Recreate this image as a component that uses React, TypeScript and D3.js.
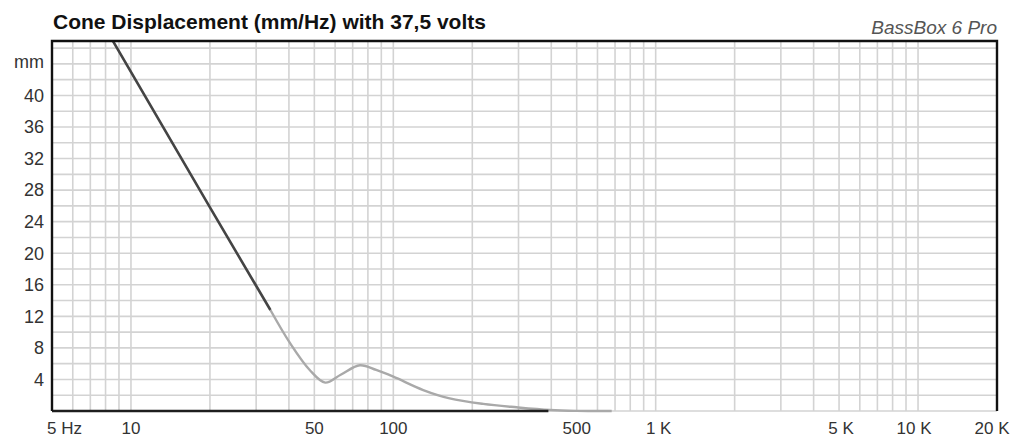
import React from "react";
import * as d3 from "d3";

const W = 1018;
const H = 438;

// Data
const darkFreq = [8, 20, 34];
const darkMm = [48.5, 25.8, 12.8];

const lightFreq = [34, 40.4, 48, 55, 63, 74.6, 86, 100, 130, 164, 220, 295, 395, 500, 680];
const lightMm = [12.8, 8.6, 5.2, 3.6, 4.6, 5.8, 5.2, 4.35, 2.66, 1.6, 0.9, 0.47, 0.13, 0.02, 0];

const floorFreq = [5, 390];
const floorMm = [0, 0];

const xTickValues = [5, 10, 50, 100, 500, 1000, 5000, 10000, 20000];
const xTickLabels = ["5 Hz", "10", "50", "100", "500", "1 K", "5 K", "10 K", "20 K"];
const yTickValues = [4, 8, 12, 16, 20, 24, 28, 32, 36, 40];
const yUnitValue = 44;

const xGrid = [6, 7, 8, 9, 10, 20, 30, 40, 50, 60, 70, 80, 90, 100, 200, 300, 400, 500, 600, 700, 800, 900,
  1000, 2000, 3000, 4000, 5000, 6000, 7000, 8000, 9000, 10000];
const yGrid = d3.range(0, 47, 2);

const TITLE = "Cone Displacement (mm/Hz) with 37,5 volts";
const BRAND = "BassBox 6 Pro";

export default function App() {
  const left = 52, right = 997, top = 41, bottom = 411;
  const x = d3.scaleLog().domain([5, 20000]).range([left, right]);
  const y = d3.scaleLinear().domain([0, 46.9]).range([bottom, top]);

  const smooth = d3.line<[number, number]>()
    .x(d => x(d[0]))
    .y(d => y(d[1]))
    .curve(d3.curveCatmullRom.alpha(0.5));
  const straight = d3.line<[number, number]>()
    .x(d => x(d[0]))
    .y(d => y(d[1]));

  const dark = darkFreq.map((f, i) => [f, darkMm[i]] as [number, number]);
  const light = lightFreq.map((f, i) => [f, lightMm[i]] as [number, number]);
  const floor = floorFreq.map((f, i) => [f, floorMm[i]] as [number, number]);

  const xLabelDx = (v: number) => {
    if (v === 1000) return 3;
    if (v === 5000) return 2;
    if (v === 10000) return -4;
    if (v === 20000) return -5;
    return 0;
  };

  return (
    <svg width={W} height={H} style={{ position: "absolute", left: 0, top: 0, background: "#fff" }}
      fontFamily="'Liberation Sans', Arial, sans-serif">
      <defs>
        <clipPath id="plotclip">
          <rect x={left} y={top} width={right - left} height={bottom - top + 2} />
        </clipPath>
      </defs>
      <rect x={0} y={0} width={W} height={H} fill="#fff" />
      {/* grid */}
      <g stroke="#d3d3d3" strokeWidth={1.6}>
        {xGrid.map(v => (
          <line key={"gx" + v} x1={x(v)} x2={x(v)} y1={top} y2={bottom} />
        ))}
        {yGrid.map(v => (
          <line key={"gy" + v} x1={left} x2={right} y1={y(v)} y2={y(v)} />
        ))}
      </g>
      {/* curves */}
      <g clipPath="url(#plotclip)" fill="none" strokeLinecap="butt">
        <path d={smooth(light) || ""} stroke="#a9a9a9" strokeWidth={2.4} />
        <path d={straight(floor) || ""} stroke="#1e1e1e" strokeWidth={2.6} />
        <path d={straight(dark) || ""} stroke="#444" strokeWidth={2.6} />
      </g>
      {/* frame */}
      <path d={`M${left},${bottom} V${top} H${right} V${bottom}`} fill="none" stroke="#111" strokeWidth={2.4} />
      {/* title */}
      <text x={53} y={29} fontSize={21} fontWeight="bold" fill="#111">{TITLE}</text>
      <text x={997} y={34} fontSize={19} fontStyle="italic" fill="#555" textAnchor="end">{BRAND}</text>
      {/* y labels */}
      <g fontSize={18} fill="#333" textAnchor="end">
        {yTickValues.map(v => (
          <text key={"yl" + v} x={44} y={y(v)} dy="0.35em">{v}</text>
        ))}
        <text x={44} y={y(yUnitValue) - 2} dy="0.35em">mm</text>
      </g>
      {/* x labels */}
      <g fontSize={17} fill="#333">
        {xTickValues.map((v, i) => (
          <text key={"xl" + v} x={v === 5 ? 47 : x(v) + xLabelDx(v)} y={434}
            textAnchor={v === 5 ? "start" : "middle"}>{xTickLabels[i]}</text>
        ))}
      </g>
    </svg>
  );
}
